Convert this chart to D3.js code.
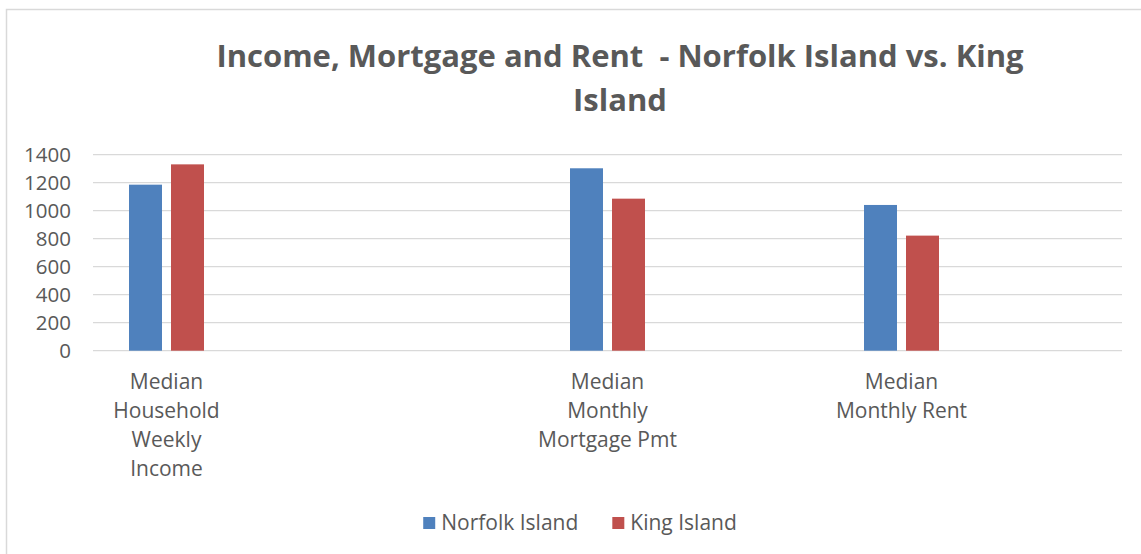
<!DOCTYPE html>
<html>
<head>
<meta charset="utf-8">
<script src="https://cdn.jsdelivr.net/npm/d3@7"></script>
<style>
  html, body { margin: 0; padding: 0; background: #fff; }
  svg { display: block; }
  text { font-family: "Open Sans", "Liberation Sans", sans-serif; fill: #595959; }
</style>
</head>
<body>
<svg id="chart" width="1141" height="554"></svg>
<script>
// Category slots along the x axis (blank slots are empty categories)
const categories = [
  "Median\nHousehold\nWeekly\nIncome",
  "",
  "",
  "Median\nMonthly\nMortgage Pmt",
  "",
  "Median\nMonthly Rent",
  ""
];
const seriesNames = ["Norfolk Island", "King Island"];
const norfolkValues = [1186, null, null, 1303, null, 1041, null];
const kingValues    = [1331, null, null, 1086, null, 822, null];
const yTicks = [0, 200, 400, 600, 800, 1000, 1200, 1400];
const colors = ["#4F81BD", "#C0504D"];
const titleLines = ["Income, Mortgage and Rent  - Norfolk Island vs. King", "Island"];

const svg = d3.select("#chart");
const W = 1141, H = 554;
const FONT = "'Open Sans', 'Liberation Sans', sans-serif";

// chart area border
svg.append("rect")
  .attr("x", 6.5).attr("y", 9.5)
  .attr("width", W + 20).attr("height", H + 20)
  .attr("fill", "#fff").attr("stroke", "#d9d9d9").attr("stroke-width", 1.5);

const plot = { left: 93, right: 1122, top: 154.7, bottom: 350.7 };

const x0 = d3.scaleBand()
  .domain(d3.range(categories.length))
  .range([plot.left, plot.right])
  .paddingInner(0).paddingOuter(0);

const groupWidth = 75;
const x1 = d3.scaleBand()
  .domain(seriesNames)
  .range([-groupWidth / 2, groupWidth / 2])
  .paddingInner(9 / 42);

const y = d3.scaleLinear().domain([0, 1400]).range([plot.bottom, plot.top]);

// horizontal gridlines
svg.append("g")
  .selectAll("line")
  .data(yTicks)
  .join("line")
  .attr("x1", plot.left).attr("x2", plot.right)
  .attr("y1", d => y(d)).attr("y2", d => y(d))
  .attr("stroke", "#d9d9d9").attr("stroke-width", 1.3);

// y axis labels
const yAxis = d3.axisLeft(y)
  .tickValues(yTicks)
  .tickFormat(d3.format("d"))
  .tickSize(0).tickPadding(0);
svg.append("g")
  .attr("transform", `translate(71,0)`)
  .call(yAxis)
  .call(g => g.select(".domain").remove())
  .selectAll("text")
  .style("font-family", FONT)
  .style("font-size", "20.5px")
  .attr("fill", "#595959");

// bars
const seriesData = [norfolkValues, kingValues];
const rows = [];
categories.forEach((c, i) => {
  seriesNames.forEach((s, k) => {
    const v = seriesData[k][i];
    if (v != null) rows.push({ i, s, k, v });
  });
});
svg.append("g")
  .selectAll("rect")
  .data(rows)
  .join("rect")
  .attr("x", d => x0(d.i) + x0.bandwidth() / 2 + x1(d.s))
  .attr("width", x1.bandwidth())
  .attr("y", d => y(d.v))
  .attr("height", d => y(0) - y(d.v))
  .attr("fill", d => colors[d.k]);

// category labels
const catG = svg.append("g");
categories.forEach((c, i) => {
  if (!c) return;
  const cx = x0(i) + x0.bandwidth() / 2;
  const t = catG.append("text")
    .attr("text-anchor", "middle")
    .style("font-size", "21px");
  c.split("\n").forEach((line, j) => {
    t.append("tspan")
      .attr("x", cx)
      .attr("y", 389 + j * 29)
      .text(line);
  });
});

// title
const title = svg.append("text")
  .attr("text-anchor", "middle")
  .style("font-size", "31px")
  .style("font-weight", "bold")
  .style("white-space", "pre");
titleLines.forEach((line, j) => {
  title.append("tspan")
    .attr("x", 620)
    .attr("y", 67 + j * 44)
    .text(line);
});

// legend
const legend = svg.append("g");
const legendItems = legend.selectAll("g")
  .data(seriesNames)
  .join("g");
legendItems.append("rect")
  .attr("width", 12).attr("height", 12)
  .attr("y", -6)
  .attr("fill", (d, k) => colors[k]);
legendItems.append("text")
  .attr("x", 18)
  .attr("dy", "0.35em")
  .style("font-size", "21px")
  .text(d => d);
// lay out legend entries side by side, centred
let offset = 0;
const widths = [];
legendItems.each(function () {
  widths.push(this.getBBox().width);
});
const gapLegend = 34;
const total = d3.sum(widths) + gapLegend * (widths.length - 1);
legendItems.attr("transform", (d, k) => {
  const xPos = offset;
  offset += widths[k] + gapLegend;
  return `translate(${xPos},0)`;
});
legend.attr("transform", `translate(${580 - total / 2},523)`);
</script>
</body>
</html>
